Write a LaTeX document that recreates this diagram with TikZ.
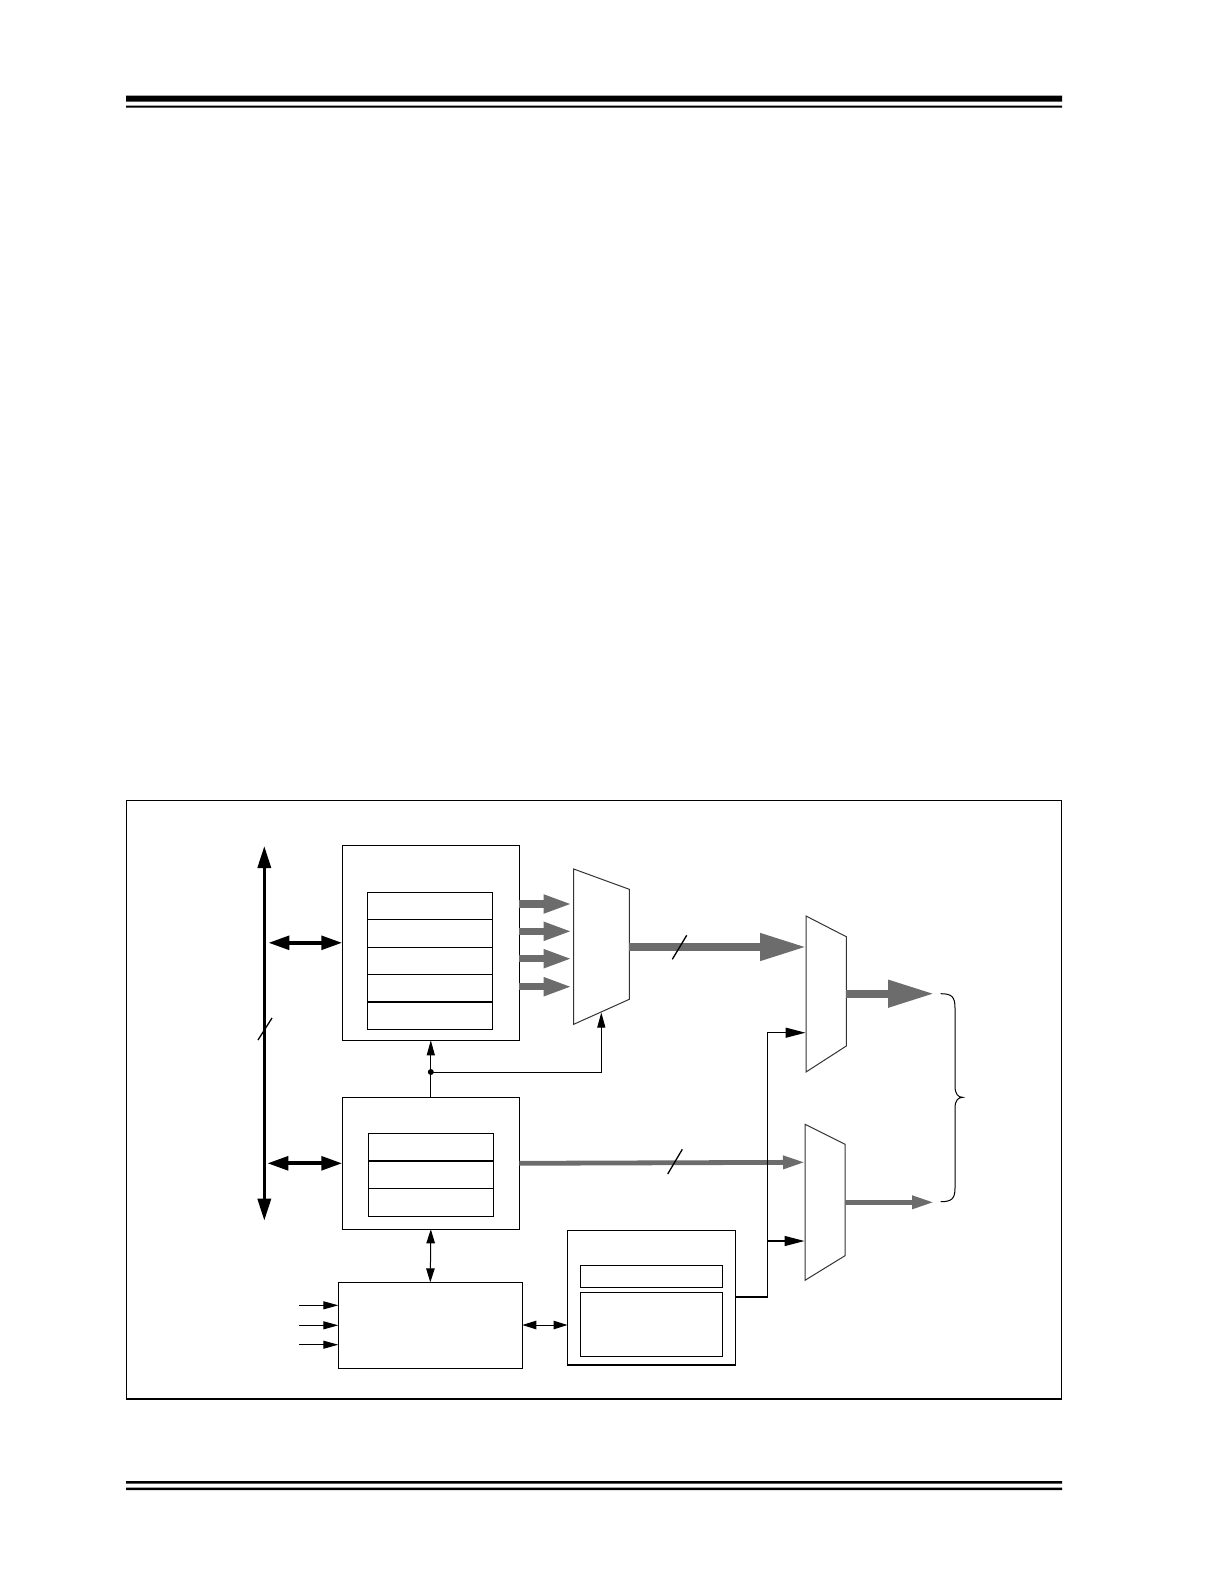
\documentclass[tikz,border=0pt]{standalone}
\usetikzlibrary{arrows.meta,positioning}
\definecolor{busgray}{RGB}{108,108,108}
\begin{document}
\begin{tikzpicture}[x=1pt, y=-1pt, line join=miter,
	box/.style={draw, line width=1.2pt, inner sep=0pt, outer sep=0pt},
	row/.style={box, minimum width=125pt},
	mux/.style={draw=black!80, line width=1pt},
	sysbus/.style={line width=3.4pt, {Triangle[length=22pt,width=13pt]}-{Triangle[length=22pt,width=13pt]}},
	wbus/.style={line width=4pt, {Triangle[length=21pt,width=13.5pt]}-{Triangle[length=21pt,width=13.5pt]}},
	rdbus/.style={draw=busgray, line width=7.4pt, -{Triangle[length=29pt,width=17pt]}},
	outbus/.style={draw=busgray, line width=7.6pt, -{Triangle[length=46pt,width=26pt]}},
	thinbus/.style={draw=busgray, line width=4.8pt, -{Triangle[length=22pt,width=12.5pt]}},
	sig/.style={line width=1pt, -{Triangle[length=15pt,width=8pt]}},
	sigboth/.style={line width=1pt, {Triangle[length=14pt,width=8.5pt]}-{Triangle[length=14pt,width=8.5pt]}},
	sel/.style={line width=1.4pt, -{Triangle[length=20pt,width=10pt]}},
	slash/.style={line width=1.3pt}]
	\useasboundingbox (0,0) rectangle (1224,1584);
	% page rules
	\fill (126,95.7) rectangle (1062,101.7) (126,105.7) rectangle (1062,107.7);
	\fill (126,1481) rectangle (1062,1483.5) (126,1487.5) rectangle (1062,1490);
	\draw[line width=1.2pt] (126.7,800.7) rectangle (1061.7,1399);
	% blocks
	\node[box, minimum width=177pt, minimum height=195pt] (regs) at (430.8,942.8) {};
	\node[row, minimum height=27.4pt] (r1) at (430.3,906) {};
	\foreach \i [count=\j from 2] in {1,...,4} \node[row, minimum height=27.4pt, below=0pt of r\i] (r\j) {};
	\node[box, minimum width=177pt, minimum height=132pt] (mid) at (430.8,1163.3) {};
	\node[row, minimum height=27.7pt] (s1) at (430.8,1147.1) {};
	\foreach \i [count=\j from 2] in {1,2} \node[row, minimum height=27.7pt, below=0pt of s\i] (s\j) {};
	\node[box, minimum width=184pt, minimum height=86pt] (ctl) at (430.3,1325.3) {};
	\node[box, minimum width=168pt, minimum height=134.3pt] (cfg) at (651.5,1297.9) {};
	\node[box, minimum width=142.2pt, minimum height=22pt] (cfga) at (651.4,1276.3) {};
	\node[box, minimum width=142.2pt, minimum height=64pt] (cfgb) at (651.4,1324.3) {};
	% bus
	\coordinate (bustop) at (264.3,846);
	\coordinate (busbot) at (264.3,1220.7);
	\draw[sysbus] (bustop) -- (busbot);
	\draw[slash] (258,1040) -- (272,1018);
	\draw[wbus] ([xshift=4pt]bustop |- regs.west) -- (regs.west);
	\draw[wbus] ([xshift=3pt]bustop |- mid.west) -- (mid.west);
	% read ports into first mux
	\foreach \y in {904,931.3,958.7,986.7} \draw[rdbus] (regs.east |- 0,\y) -- (572.5,\y);
	\draw[mux] (573.7,869) coordinate (m1nw) -- (629.3,889.3) -- (629.3,999.3) -- (573.7,1024.3) -- cycle;
	\draw[mux] (806,916) coordinate (m2nw) -- (846.3,936.7) -- (846.3,1046) -- (806,1072) -- cycle;
	\draw[mux] (805,1124.3) coordinate (m3nw) -- (845,1144.3) -- (845,1255.7) -- (805,1280.3) -- cycle;
	\coordinate (m1out) at (629.3,947);
	\coordinate (m1sel) at (601.3,1012.5);
	\coordinate (m2sel) at (805.5,1032.7);
	\coordinate (m3sel) at (804.5,1241);
	\coordinate (jn) at (430.8,1072);
	\draw[outbus] (m1out) -- (m1out -| m2nw);
	\draw[slash] (672.3,959.3) -- (686.7,935.3);
	\draw[outbus] (846.3,993.7) coordinate (m2out) -- (934,993.7);
	\draw[thinbus] (mid.east) -- (805,1162.3);
	\draw[slash] (667.7,1174) -- (682.3,1149.3);
	\draw[thinbus] (845,1202.3) coordinate (m3out) -- (934,1202.3);
	% control lines
	\draw[sig] (mid.north) -- (regs.south);
	\fill (jn) circle (3pt);
	\draw[sig] (jn) -| (m1sel);
	\draw[sigboth] (mid.south) -- (ctl.north);
	\foreach \y in {1305.3,1325.3,1344.7} \draw[sig] (299,\y) -- (ctl.west |- 0,\y);
	\draw[sigboth] (ctl.east |- 0,1325) -- (cfg.west |- 0,1325);
	\coordinate (sp) at (767.3,1032.7);
	\draw[sel] (cfg.east |- 0,1297) -| (sp) -- (m2sel);
	\draw[sel] (sp |- m3sel) -- (m3sel);
	% output brace
	\draw[line width=1pt] (940.7,993.7) .. controls (952,993.7) and (955,997) .. (955,1008) -- (955,1086)
		.. controls (955,1094) and (958,1097.3) .. (962.7,1097.3)
		.. controls (958,1097.3) and (955,1100.6) .. (955,1108) -- (955,1188)
		.. controls (955,1198.4) and (952,1201.7) .. (940.7,1201.7);
\end{tikzpicture}
\end{document}
